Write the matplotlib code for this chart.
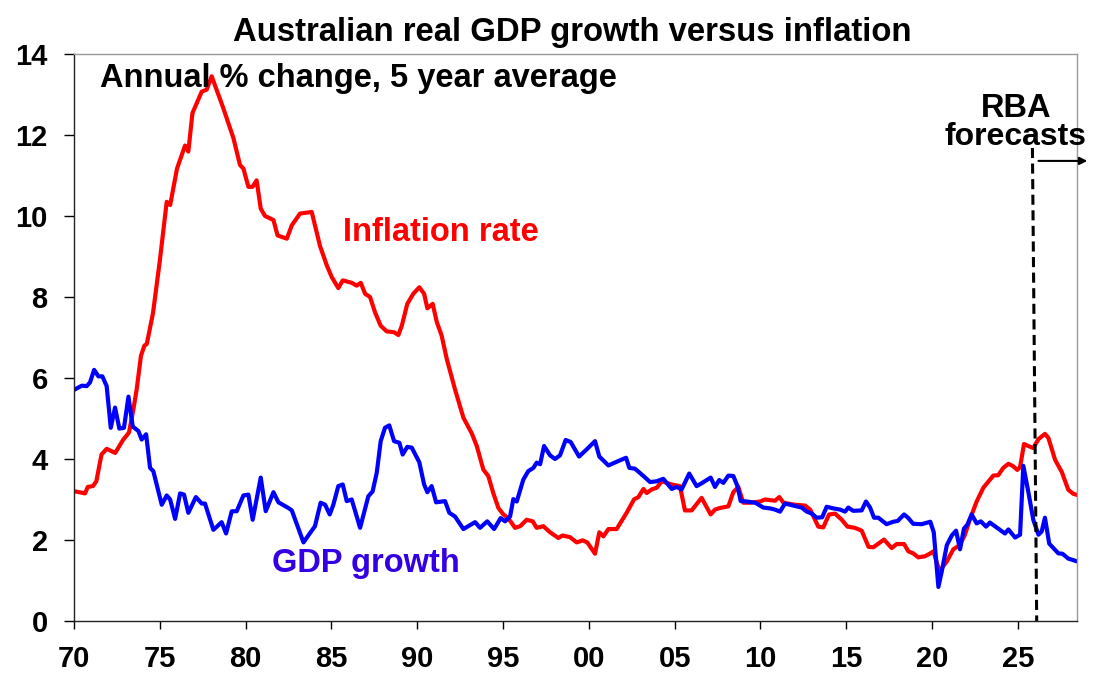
import matplotlib
matplotlib.use("Agg")
import matplotlib.pyplot as plt

plt.rcParams['font.family'] = ['Liberation Sans', 'DejaVu Sans']
plt.rcParams['font.weight'] = 'bold'

# inflation, 5 year average annual % change
infl_years = [1970.06, 1970.64, 1970.8, 1971.1, 1971.3, 1971.6, 1971.9, 1972.4, 1972.87, 1973.2,
              1973.46, 1973.65, 1973.9, 1974.1, 1974.24, 1974.6, 1975.0, 1975.4, 1975.6, 1976.0,
              1976.47, 1976.66, 1976.9, 1977.44, 1977.73, 1978.02, 1978.7, 1979.29, 1979.67, 1979.87,
              1980.16, 1980.4, 1980.64, 1980.88, 1981.13, 1981.62, 1981.86, 1982.4, 1982.69, 1983.17,
              1983.85, 1984.34, 1984.73, 1985.02, 1985.4, 1985.66, 1986.18, 1986.47, 1986.71, 1986.96,
              1987.25, 1987.54, 1987.87, 1988.22, 1988.65, 1988.9, 1989.1, 1989.42, 1989.77, 1990.12,
              1990.4, 1990.59, 1990.9, 1991.14, 1991.42, 1991.72, 1992.2, 1992.69, 1993.18, 1993.47,
              1993.85, 1994.14, 1994.43, 1994.73, 1995.02, 1995.3, 1995.7, 1996.0, 1996.38, 1996.73,
              1996.96, 1997.35, 1997.74, 1998.22, 1998.47, 1998.9, 1999.29, 1999.64, 1999.91, 2000.36,
              2000.61, 2000.85, 2001.14, 2001.62, 2002.2, 2002.63, 2002.89, 2003.18, 2003.37, 2003.67,
              2003.96, 2004.25, 2004.83, 2005.31, 2005.6, 2005.99, 2006.57, 2007.1, 2007.35, 2007.64,
              2008.13, 2008.42, 2008.71, 2009.0, 2009.4, 2009.98, 2010.27, 2010.85, 2011.1, 2011.34,
              2012.0, 2012.6, 2012.9, 2013.37, 2013.66, 2014.0, 2014.35, 2014.74, 2015.07, 2015.5,
              2015.9, 2016.3, 2016.58, 2017.2, 2017.65, 2017.94, 2018.37, 2018.62, 2018.9, 2019.2,
              2019.6, 2019.9, 2020.08, 2020.43, 2020.86, 2021.24, 2021.6, 2021.9, 2022.2, 2022.6,
              2022.99, 2023.57, 2023.86, 2024.15, 2024.45, 2024.7, 2024.97, 2025.13, 2025.36, 2025.61,
              2025.9, 2026.2, 2026.58, 2026.78, 2027.17, 2027.56, 2027.94, 2028.23, 2028.47]
infl_vals = [3.2, 3.15, 3.31, 3.33, 3.45, 4.11, 4.25, 4.15, 4.48, 4.65,
             5.23, 5.72, 6.55, 6.8, 6.84, 7.6, 8.9, 10.35, 10.27, 11.17,
             11.74, 11.59, 12.54, 13.07, 13.12, 13.45, 12.66, 11.92, 11.26, 11.17,
             10.72, 10.72, 10.88, 10.18, 10.0, 9.9, 9.52, 9.44, 9.77, 10.06,
             10.1, 9.25, 8.78, 8.49, 8.22, 8.41, 8.35, 8.28, 8.35, 8.08,
             8.0, 7.62, 7.29, 7.15, 7.13, 7.06, 7.29, 7.83, 8.08, 8.24,
             8.08, 7.72, 7.83, 7.38, 7.05, 6.47, 5.72, 5.02, 4.63, 4.32,
             3.74, 3.58, 3.16, 2.79, 2.63, 2.54, 2.3, 2.34, 2.5, 2.46,
             2.3, 2.34, 2.19, 2.05, 2.11, 2.07, 1.94, 1.99, 1.94, 1.66,
             2.19, 2.09, 2.27, 2.27, 2.67, 3.0, 3.06, 3.26, 3.16, 3.25,
             3.29, 3.45, 3.37, 3.33, 2.73, 2.73, 3.04, 2.63, 2.75, 2.79,
             2.83, 3.18, 3.31, 2.92, 2.92, 2.95, 3.0, 2.97, 3.06, 2.92,
             2.87, 2.85, 2.75, 2.33, 2.31, 2.63, 2.65, 2.5, 2.33, 2.3,
             2.23, 1.83, 1.82, 2.01, 1.8, 1.9, 1.9, 1.72, 1.67, 1.57,
             1.6, 1.67, 1.72, 1.23, 1.47, 1.77, 1.87, 2.11, 2.5, 2.95,
             3.29, 3.59, 3.6, 3.78, 3.88, 3.83, 3.73, 3.8, 4.37, 4.32,
             4.27, 4.49, 4.62, 4.52, 3.98, 3.68, 3.24, 3.14, 3.11]

# real GDP growth, 5 year average annual % change
gdp_years = [1970.06, 1970.45, 1970.74, 1970.93, 1971.17, 1971.42, 1971.65, 1971.9, 1972.14, 1972.39,
             1972.64, 1972.91, 1973.17, 1973.42, 1973.75, 1973.94, 1974.2, 1974.43, 1974.62, 1975.11,
             1975.4, 1975.6, 1975.89, 1976.18, 1976.41, 1976.66, 1977.1, 1977.44, 1977.63, 1978.12,
             1978.6, 1978.86, 1979.19, 1979.48, 1979.87, 1980.16, 1980.41, 1980.88, 1981.17, 1981.62,
             1981.91, 1982.49, 1982.69, 1983.37, 1983.75, 1984.04, 1984.37, 1984.63, 1984.9, 1985.11,
             1985.4, 1985.66, 1985.89, 1986.18, 1986.67, 1987.15, 1987.4, 1987.64, 1987.87, 1988.12,
             1988.37, 1988.65, 1988.96, 1989.15, 1989.42, 1989.68, 1990.12, 1990.4, 1990.59, 1990.84,
             1991.1, 1991.62, 1991.87, 1992.2, 1992.69, 1993.37, 1993.66, 1994.08, 1994.48, 1994.86,
             1995.12, 1995.41, 1995.6, 1995.8, 1996.18, 1996.47, 1996.77, 1996.96, 1997.16, 1997.39,
             1997.74, 1998.03, 1998.32, 1998.65, 1998.94, 1999.43, 1999.88, 2000.36, 2000.61, 2001.14,
             2001.72, 2002.17, 2002.36, 2002.69, 2003.18, 2003.57, 2003.96, 2004.34, 2004.83, 2005.12,
             2005.41, 2005.85, 2006.28, 2006.57, 2007.1, 2007.35, 2007.6, 2007.84, 2008.13, 2008.42,
             2008.66, 2008.85, 2009.2, 2009.7, 2010.17, 2010.56, 2010.85, 2011.14, 2011.43, 2011.92,
             2012.4, 2012.7, 2013.0, 2013.27, 2013.6, 2013.86, 2014.25, 2014.64, 2014.93, 2015.12,
             2015.4, 2015.9, 2016.15, 2016.39, 2016.62, 2016.87, 2017.35, 2017.74, 2018.0, 2018.37,
             2018.6, 2018.9, 2019.4, 2019.9, 2020.1, 2020.37, 2020.57, 2020.86, 2021.15, 2021.4,
             2021.63, 2021.86, 2022.06, 2022.31, 2022.6, 2022.84, 2023.15, 2023.37, 2023.76, 2024.25,
             2024.45, 2024.84, 2025.13, 2025.32, 2025.61, 2025.9, 2026.2, 2026.39, 2026.58, 2026.83,
             2027.36, 2027.6, 2027.94, 2028.47]
gdp_vals = [5.72, 5.81, 5.8, 5.89, 6.2, 6.04, 6.04, 5.8, 4.77, 5.27,
            4.75, 4.77, 5.54, 4.8, 4.69, 4.48, 4.61, 3.78, 3.7, 2.87,
            3.1, 3.0, 2.52, 3.15, 3.12, 2.67, 3.06, 2.9, 2.9, 2.25,
            2.44, 2.16, 2.71, 2.71, 3.1, 3.12, 2.5, 3.54, 2.71, 3.18,
            2.93, 2.79, 2.73, 1.94, 2.17, 2.34, 2.92, 2.87, 2.63, 2.87,
            3.33, 3.37, 2.96, 3.0, 2.3, 3.08, 3.2, 3.66, 4.44, 4.77,
            4.83, 4.44, 4.4, 4.11, 4.3, 4.28, 3.92, 3.37, 3.18, 3.33,
            2.93, 2.96, 2.67, 2.58, 2.27, 2.44, 2.3, 2.46, 2.27, 2.54,
            2.46, 2.58, 3.01, 2.95, 3.49, 3.7, 3.78, 3.91, 3.87, 4.32,
            4.09, 4.0, 4.09, 4.47, 4.42, 4.06, 4.24, 4.44, 4.06, 3.84,
            3.95, 4.03, 3.78, 3.76, 3.58, 3.43, 3.45, 3.51, 3.26, 3.31,
            3.25, 3.64, 3.33, 3.4, 3.54, 3.31, 3.48, 3.41, 3.59, 3.58,
            3.33, 2.96, 2.95, 2.92, 2.8, 2.78, 2.75, 2.7, 2.9, 2.85,
            2.8, 2.7, 2.65, 2.55, 2.56, 2.82, 2.78, 2.75, 2.7, 2.8,
            2.72, 2.73, 2.95, 2.8, 2.55, 2.55, 2.39, 2.45, 2.47, 2.63,
            2.55, 2.4, 2.39, 2.45, 2.19, 0.84, 1.23, 1.87, 2.11, 2.23,
            1.77, 2.28, 2.38, 2.63, 2.41, 2.46, 2.33, 2.43, 2.31, 2.16,
            2.26, 2.06, 2.13, 3.83, 3.19, 2.5, 2.13, 2.21, 2.55, 1.91,
            1.67, 1.66, 1.54, 1.47]

x_ticks = [1970, 1975, 1980, 1985, 1990, 1995, 2000, 2005, 2010, 2015, 2020, 2025]
x_labels = ['70', '75', '80', '85', '90', '95', '00', '05', '10', '15', '20', '25']
y_ticks = [0, 2, 4, 6, 8, 10, 12, 14]

forecast_start = 2026.0

fig = plt.figure(figsize=(10.97, 6.8), dpi=100)
ax = fig.add_axes([0.0675, 0.0868, 0.9143, 0.8338])

ax.plot(infl_years, infl_vals, color='#ff0000', lw=3.0, solid_joinstyle='round')
ax.plot(gdp_years, gdp_vals, color='#0000ff', lw=3.0, solid_joinstyle='round')

# forecast marker
ax.plot([forecast_start - 0.15, forecast_start + 0.1], [11.68, 0], color='black', lw=2.2,
        ls=(0, (3.3, 1.8)), clip_on=False)
ax.annotate('', xy=(2029.05, 11.36), xytext=(2026.2, 11.36),
            arrowprops=dict(arrowstyle='-|>', color='black', lw=1.5, mutation_scale=11,
                            shrinkA=0, shrinkB=0),
            annotation_clip=False)
ax.text(2024.9, 12.65, 'RBA', ha='center', va='center', fontsize=23.5, fontweight='bold')
ax.text(2024.85, 11.95, 'forecasts', ha='center', va='center', fontsize=23, fontweight='bold')

ax.text(1971.5, 13.4, 'Annual % change, 5 year average', ha='left', va='center',
        fontsize=23.5, fontweight='bold')
ax.text(1985.68, 9.6, 'Inflation rate', color='#ff0000', ha='left', va='center',
        fontsize=23.5, fontweight='bold')
ax.text(1981.54, 1.43, 'GDP growth', color='#3300e6', ha='left', va='center',
        fontsize=23.5, fontweight='bold')

fig.text(0.522, 0.952, 'Australian real GDP growth versus inflation', ha='center', va='center',
         fontsize=23.7, fontweight='bold')

ax.set_xlim(1970, 2028.45)
ax.set_ylim(0, 14)
ax.set_xticks(x_ticks)
ax.set_xticklabels(x_labels)
ax.set_yticks(y_ticks)
ax.tick_params(axis='both', direction='out', length=7, width=1, labelsize=21, colors='black')
ax.tick_params(axis='x', pad=11, length=6)
ax.tick_params(axis='y', pad=12)
for lbl in ax.get_xticklabels() + ax.get_yticklabels():
    lbl.set_fontweight('bold')

ax.spines['left'].set_color('#222222')
ax.spines['bottom'].set_color('#222222')
ax.spines['top'].set_color('#999999')
ax.spines['right'].set_color('#999999')
for s in ax.spines.values():
    s.set_linewidth(1)

fig.savefig('out.png', dpi=100)
